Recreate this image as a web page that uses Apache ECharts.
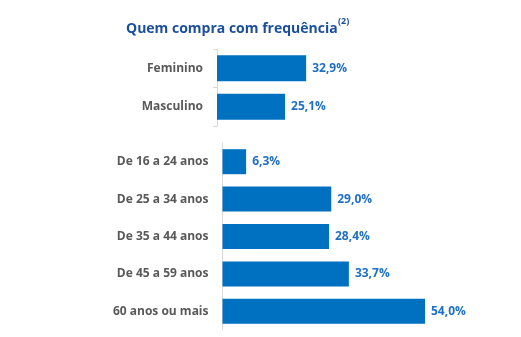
<!DOCTYPE html>
<html><head><meta charset="utf-8">
<script src="https://cdn.jsdelivr.net/npm/echarts@6/dist/echarts.min.js"></script>
<style>html,body{margin:0;padding:0;background:#fff}#c{width:521px;height:337px}</style>
</head><body><div id="c"></div>
<script>
const genderCats = ['Feminino', 'Masculino'];
const genderVals = [32.9, 25.1];
const ageCats = ['De 16 a 24 anos', 'De 25 a 34 anos', 'De 35 a 44 anos', 'De 45 a 59 anos', '60 anos ou mais'];
const ageVals = [6.3, 29.0, 28.4, 33.7, 54.0];
const titleText = 'Quem compra com frequência';
const titleSup = '(2)';

const FONT = '"Open Sans", sans-serif';
const BAR = '#0070C0';
const LBL = '#1F70C4';
const fmt = p => p.value.toFixed(1).replace('.', ',') + '%';

const chart = echarts.init(document.getElementById('c'), null, {renderer: 'canvas'});
const catAxis = (gi, ticks) => ({
  type: 'category', gridIndex: gi, inverse: true,
  data: gi === 0 ? genderCats : ageCats,
  axisLine: {show: true, lineStyle: {color: '#D9D9D9', width: 1}},
  axisTick: {show: ticks, length: 4, lineStyle: {color: '#D9D9D9'}},
  axisLabel: {color: '#595959', fontFamily: FONT, fontWeight: 'bold', fontSize: 12, margin: 14}
});
const labelOpt = {show: true, position: 'right', distance: 6, color: LBL, fontFamily: FONT, fontWeight: 'bold', fontSize: 12, formatter: fmt};
chart.setOption({
  animation: false,
  grid: [
    {left: 217, top: 49, width: 271, height: 77},
    {left: 222.5, top: 143, width: 225, height: 187}
  ],
  xAxis: [
    {type: 'value', gridIndex: 0, min: 0, max: 100, show: false},
    {type: 'value', gridIndex: 1, min: 0, max: 60, show: false}
  ],
  yAxis: [catAxis(0, true), catAxis(1, false)],
  series: [
    {type: 'bar', xAxisIndex: 0, yAxisIndex: 0, data: genderVals, barWidth: 26, itemStyle: {color: BAR}, label: labelOpt},
    {type: 'bar', xAxisIndex: 1, yAxisIndex: 1, data: ageVals, barWidth: 25, itemStyle: {color: BAR}, label: labelOpt}
  ],
  graphic: [
    {type: 'text', left: 126, top: 22, style: {text: titleText, fill: '#1B4F9C', font: 'bold 14px ' + FONT}},
    {type: 'text', left: 338, top: 17, style: {text: titleSup, fill: '#1B4F9C', font: 'bold 9px ' + FONT}}
  ]
});
</script></body></html>
